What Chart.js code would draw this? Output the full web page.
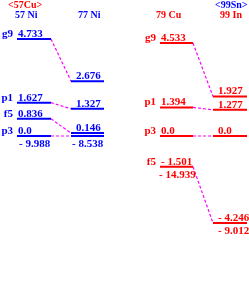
<!DOCTYPE html>
<html>
<head>
<meta charset="utf-8">
<script src="https://cdn.jsdelivr.net/npm/chart.js@4"></script>
<style>
  html, body { margin: 0; padding: 0; background: #fff; }
  #wrap { width: 249px; height: 286px; position: relative; }
</style>
</head>
<body>
<div id="wrap"><canvas id="levels"></canvas></div>
<script>
// Single-particle levels (MeV)
const nuclei = ['57 Ni', '77 Ni', '79 Cu', '99 In'];
const cores = ['<57Cu>', '<99Sn>'];
const orbitals = ['g9', 'p1', 'f5', 'p3'];
const levels57Ni = [4.733, 1.627, 0.836, 0.0];
const levels77Ni = [2.676, 1.327, 0.146, 0.0];
const levels79Cu = [4.533, 1.394, -1.501, 0.0];
const levels99In = [1.927, 1.277, -4.246, 0.0];
const labels57Ni = ['4.733', '1.627', '0.836', '0.0'];
const labels77Ni = ['2.676', '1.327', '0.146', ''];
const labels79Cu = ['4.533', '1.394', '- 1.501', '0.0'];
const labels99In = ['1.927', '1.277', '- 4.246', '0.0'];
const bindingLabels = ['- 9.988', '- 8.538', '- 14.939', '- 9.012'];

const BLUE = '#0000ff';
const RED = '#ff0000';
const MAGENTA = '#ff00ff';
const FONT = '"Liberation Serif", "Times New Roman", serif';

// layout (in canvas pixels, x scale runs 0..249)
const cols = [
    { x0: 17, x1: 51, color: BLUE, textDx: 1, bindDx: 2, levels: levels57Ni, labels: labels57Ni, head: 15 },
    { x0: 71, x1: 104, color: BLUE, textDx: 5, bindDx: 1, levels: levels77Ni, labels: labels77Ni, head: 78 },
    { x0: 160, x1: 193, color: RED, textDx: 1, bindDx: -1, levels: levels79Cu, labels: labels79Cu, head: 156 },
    { x0: 213, x1: 247, color: RED, textDx: 5, bindDx: 5, levels: levels99In, labels: labels99In, head: 220 }
];

const datasets = [];
cols.forEach(c => {
    c.levels.forEach(e => {
        datasets.push({
            data: [{ x: c.x0, y: e }, { x: c.x1, y: e }],
            borderColor: c.color,
            borderWidth: 2
        });
    });
});
// dashed connections between the two columns of each panel
[[0, 1], [2, 3]].forEach(([a, b]) => {
    orbitals.forEach((o, i) => {
        datasets.push({
            data: [{ x: cols[a].x1, y: cols[a].levels[i] }, { x: cols[b].x0, y: cols[b].levels[i] }],
            borderColor: MAGENTA,
            borderWidth: 1.2,
            borderDash: [3, 2]
        });
    });
});

const textPlugin = {
    id: 'levelText',
    afterDatasetsDraw(chart) {
        const ctx = chart.ctx;
        const xs = chart.scales.x, ys = chart.scales.y;
        ctx.save();
        ctx.textBaseline = 'alphabetic';
        ctx.textAlign = 'left';

        // core labels
        ctx.font = 'bold 10px ' + FONT;
        ctx.fillStyle = RED;
        ctx.fillText(cores[0], 8, 8);
        ctx.fillStyle = BLUE;
        ctx.fillText(cores[1], 215, 8);

        cols.forEach((c, ci) => {
            ctx.font = 'bold 10px ' + FONT;
            ctx.fillStyle = c.color;
            ctx.fillText(nuclei[ci], c.head, 18);

            ctx.font = 'bold 11px ' + FONT;
            let lowest = Infinity;
            c.levels.forEach((e, i) => {
                const py = ys.getPixelForValue(e);
                lowest = Math.min(lowest, e);
                if (c.labels[i]) {
                    ctx.fillText(c.labels[i], xs.getPixelForValue(c.x0 + c.textDx), py - 2);
                }
                if (ci === 0 || ci === 2) {
                    ctx.textAlign = 'right';
                    ctx.fillText(orbitals[i], xs.getPixelForValue(c.x0 - 4), py - 2);
                    ctx.textAlign = 'left';
                }
            });
            const by = ys.getPixelForValue(lowest);
            ctx.fillText(bindingLabels[ci], xs.getPixelForValue(c.x0 + c.bindDx), by + 11);
        });
        ctx.restore();
    }
};

document.addEventListener('DOMContentLoaded', function() {
    const ctx = document.getElementById('levels').getContext('2d');
    new Chart(ctx, {
        type: 'line',
        data: { datasets: datasets },
        options: {
            responsive: true,
            maintainAspectRatio: false,
            animation: false,
            layout: { padding: 0 },
            elements: { point: { radius: 0 }, line: { tension: 0 } },
            plugins: { legend: { display: false }, tooltip: { enabled: false } },
            scales: {
                x: { type: 'linear', min: 0, max: 249, display: false },
                y: { type: 'linear', min: -150 / 20.5, max: 136 / 20.5, display: false }
            }
        },
        plugins: [textPlugin]
    });
});
</script>
</body>
</html>
